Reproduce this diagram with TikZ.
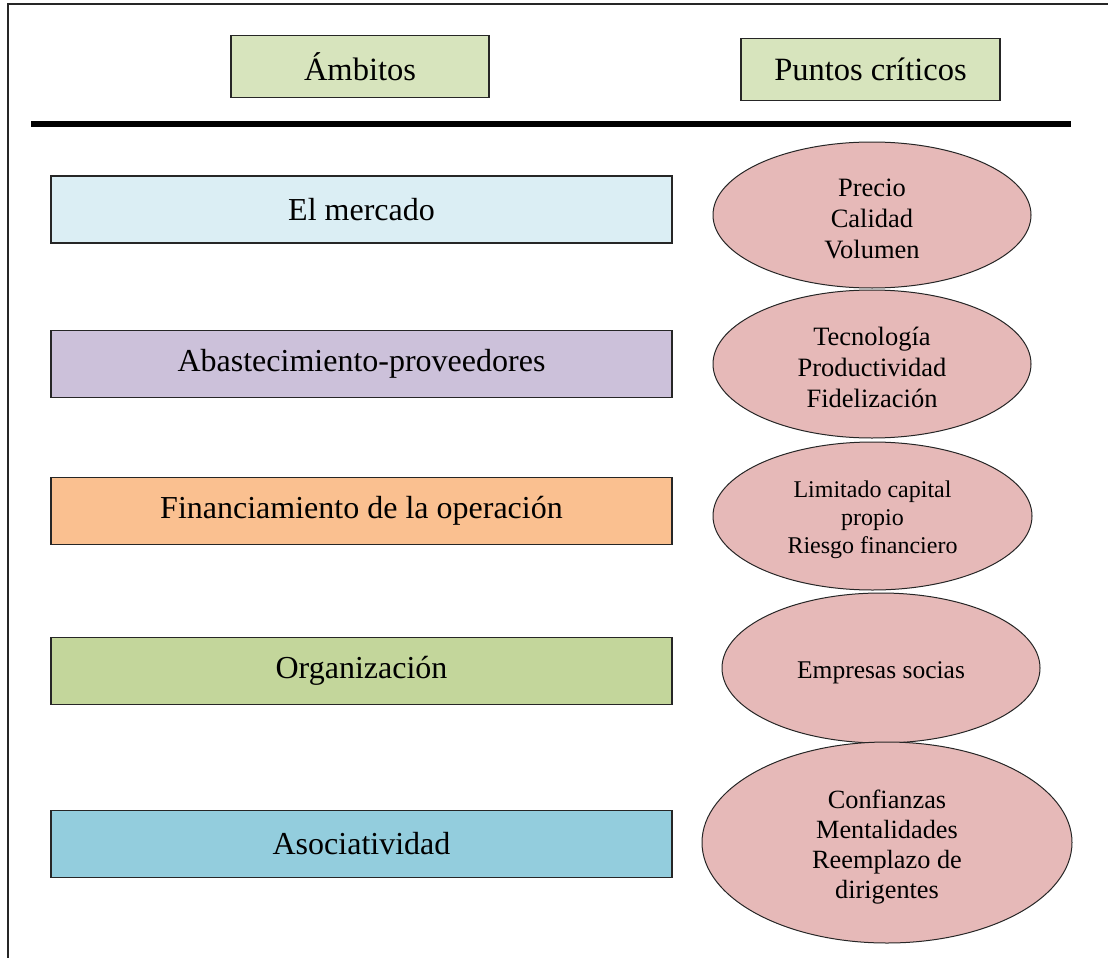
\documentclass[tikz,border=0pt]{standalone}
\usepackage{fontspec}
\setmainfont{Liberation Serif}
\usetikzlibrary{shapes.geometric}
\definecolor{hdr}{HTML}{D7E4BD}
\definecolor{cmerc}{HTML}{DBEEF4}
\definecolor{cabas}{HTML}{CCC1DA}
\definecolor{cfin}{HTML}{FAC090}
\definecolor{corg}{HTML}{C3D69B}
\definecolor{casoc}{HTML}{93CDDD}
\definecolor{cell}{HTML}{E6B9B8}
\newcommand{\critlines}[2]{\raisebox{#1}[\height][\depth]{\begin{tabular}{@{}c@{}}#2\end{tabular}}}
\tikzset{
  hdrbox/.style={draw=black!85, line width=1.2pt, fill=hdr, minimum height=62pt, inner sep=0pt, font=\fontsize{32.5}{38}\selectfont},
  ambox/.style={draw=black!85, line width=1.2pt, minimum width=621pt, minimum height=67pt, inner sep=0pt, font=\fontsize{32}{38}\selectfont},
  crit/.style={ellipse, draw=black!85, line width=1pt, fill=cell, inner sep=0pt, font=\fontsize{26.5}{31}\selectfont},
  critsm/.style={crit, font=\fontsize{24}{28}\selectfont}
}
\begin{document}
\begin{tikzpicture}[x=1pt,y=-1pt]
\useasboundingbox (0,0) rectangle (1108,958);
\coordinate (fb) at (8,958);
\coordinate (fl) at (8,4);
\coordinate (fr) at (1108,4);
\draw[line width=1.8pt, black!85] (fb) -- (fl) -- (fr);
\coordinate (ls) at (31,124);
\coordinate (le) at (1071,124);
\draw[line width=6pt] (ls) -- (le);
\node[hdrbox, minimum width=258pt] (hamb) at (360,66.5) {Ámbitos};
\node[hdrbox, minimum width=259pt] (hpun) at (870.5,69.5) {Puntos críticos};
\node[ambox, fill=cmerc] (merc) at (361.5,209.5) {El mercado};
\node[ambox, fill=cabas] (abas) at (361.5,364) {Abastecimiento-proveedores};
\node[ambox, fill=cfin] (fin) at (361.5,511) {Financiamiento de la operación};
\node[ambox, fill=corg] (org) at (361.5,671) {Organización};
\node[ambox, fill=casoc] (asoc) at (361.5,844) {Asociatividad};
\node[crit, minimum width=318pt, minimum height=146pt] (e1) at (872,215) {\critlines{-6pt}{Precio\\Calidad\\Volumen}};
\node[crit, minimum width=318pt, minimum height=148pt] (e2) at (872,364) {\critlines{-6pt}{Tecnología\\Productividad\\Fidelización}};
\node[critsm, minimum width=319pt, minimum height=148pt] (e3) at (872.5,516) {\critlines{-4pt}{Limitado capital\\propio\\Riesgo financiero}};
\node[crit, font=\fontsize{25.5}{30}\selectfont, minimum width=318pt, minimum height=150pt] (e4) at (881,668) {\critlines{-4pt}{Empresas socias}};
\node[crit, font=\fontsize{26.3}{30}\selectfont, minimum width=370pt, minimum height=201pt] (e5) at (887,842.5) {\critlines{-5pt}{Confianzas\\Mentalidades\\Reemplazo de\\dirigentes}};
\end{tikzpicture}
\end{document}
